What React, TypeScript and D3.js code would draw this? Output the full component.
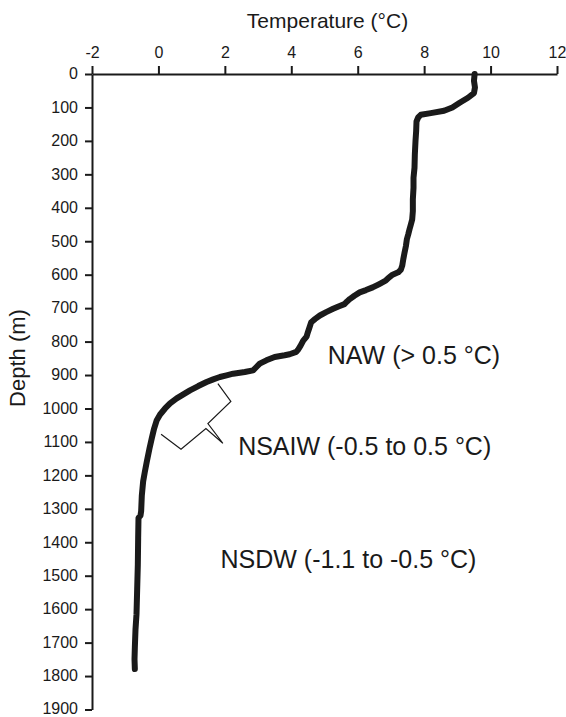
import React, { useEffect, useRef } from "react";
import * as d3 from "d3";

// Temperature profile (depth in m, temperature in °C)
const depths = [0, 20, 40, 57, 71, 86, 100, 110, 117, 122, 130, 142, 170, 200, 240, 280, 310, 340, 375, 410, 435, 450, 464, 480, 494, 515, 534, 555, 573, 585, 593, 600, 610, 618, 628, 638, 646, 653, 663, 673, 680, 688, 695, 702, 712, 722, 732, 742, 757, 772, 785, 797, 812, 825, 831, 838, 841, 846, 856, 866, 876, 886, 891, 896, 901, 906, 913, 921, 933, 946, 958, 970, 985, 1000, 1018, 1035, 1060, 1089, 1120, 1159, 1190, 1218, 1260, 1307, 1320, 1327, 1387, 1466, 1540, 1615, 1660, 1714, 1750, 1779];
const temps = [9.52, 9.5, 9.53, 9.5, 9.32, 9.07, 8.85, 8.6, 8.2, 7.9, 7.82, 7.77, 7.76, 7.74, 7.72, 7.71, 7.68, 7.68, 7.66, 7.66, 7.64, 7.6, 7.56, 7.52, 7.48, 7.45, 7.41, 7.37, 7.34, 7.3, 7.22, 7.05, 6.92, 6.84, 6.65, 6.45, 6.25, 6.06, 5.9, 5.76, 5.68, 5.6, 5.42, 5.26, 5.05, 4.86, 4.72, 4.6, 4.55, 4.5, 4.46, 4.36, 4.28, 4.2, 4.15, 3.95, 3.8, 3.5, 3.25, 3.05, 2.95, 2.85, 2.6, 2.25, 2.05, 1.85, 1.65, 1.45, 1.2, 0.95, 0.75, 0.55, 0.35, 0.2, 0.05, -0.05, -0.13, -0.2, -0.27, -0.35, -0.41, -0.46, -0.5, -0.52, -0.54, -0.6, -0.61, -0.62, -0.64, -0.66, -0.69, -0.71, -0.72, -0.71];

const tempTicks = [-2, 0, 2, 4, 6, 8, 10, 12];
const depthTicks = [0, 100, 200, 300, 400, 500, 600, 700, 800, 900, 1000, 1100, 1200, 1300, 1400, 1500, 1600, 1700, 1800, 1900];

// Bracket for NSAIW (temperature, depth)
const bracketT = [1.79, 2.18, 1.49, 1.94, 1.43, 0.68, 0.08];
const bracketD = [926, 979, 1045, 1104, 1060, 1122, 1077];

const labels = [
  { text: "NAW (> 0.5 °C)", t: 5.1, d: 866 },
  { text: "NSAIW (-0.5 to 0.5 °C)", t: 2.4, d: 1140 },
  { text: "NSDW (-1.1 to -0.5 °C)", t: 1.87, d: 1476 },
];

const W = 566;
const H = 717;
const FONT = "'Liberation Sans', Arial, Helvetica, sans-serif";
const INK = "#1a1a1a";

export default function App() {
  const axRef = useRef<SVGGElement>(null);

  const x = d3.scaleLinear().domain([-2, 12]).range([92, 557]);
  const y = d3.scaleLinear().domain([0, 1900]).range([74, 709.5]);

  const line = d3
    .line<number>()
    .x((_, i) => x(temps[i]))
    .y((d) => y(d))
    .curve(d3.curveLinear);

  const bracket = d3
    .line<number>()
    .x((t) => x(t))
    .y((_, i) => y(bracketD[i]));

  useEffect(() => {
    const g = d3.select(axRef.current);
    g.selectAll("*").remove();
    const fmt = (d: any) => String(d);
    const top = g
      .append("g")
      .attr("transform", `translate(0,${y(0)})`)
      .call(
        d3.axisTop(x).tickValues(tempTicks).tickSize(8).tickSizeOuter(0).tickPadding(8.5).tickFormat(fmt)
      );
    const left = g
      .append("g")
      .attr("transform", `translate(${x(-2)},0)`)
      .call(
        d3.axisLeft(y).tickValues(depthTicks).tickSize(7).tickSizeOuter(0).tickPadding(7).tickFormat(fmt)
      );
    left.selectAll(".tick text").attr("dy", "0.3em");
    left.selectAll(".tick:last-of-type text").attr("dy", "0.25em");
    [top, left].forEach((a) => {
      a.select(".domain").attr("stroke", INK).attr("stroke-width", 2);
      a.selectAll(".tick line").attr("stroke", INK).attr("stroke-width", 2);
      a.selectAll(".tick text")
        .attr("fill", INK)
        .style("font-family", FONT)
        .style("font-size", "16px");
    });
  }, []);

  return (
    <svg
      width={W}
      height={H}
      style={{ position: "absolute", left: 0, top: 0, background: "#fff" }}
    >
      <rect width={W} height={H} fill="#fff" />
      <g ref={axRef} />
      <path
        d={line(depths) || ""}
        fill="none"
        stroke={INK}
        strokeWidth={6}
        strokeLinejoin="round"
        strokeLinecap="round"
      />
      <path
        d={bracket(bracketT) || ""}
        fill="none"
        stroke={INK}
        strokeWidth={1.2}
        strokeLinejoin="miter"
      />
      <text
        x={(x(-2) + x(12)) / 2 + 3}
        y={28}
        textAnchor="middle"
        fontFamily={FONT}
        fontSize={21}
        fill={INK}
      >
        Temperature (°C)
      </text>
      <text
        transform={`translate(25,358) rotate(-90)`}
        textAnchor="middle"
        fontFamily={FONT}
        fontSize={22}
        fill={INK}
      >
        Depth (m)
      </text>
      {labels.map((l) => (
        <text
          key={l.text}
          x={x(l.t)}
          y={y(l.d)}
          fontFamily={FONT}
          fontSize={25}
          fill={INK}
        >
          {l.text}
        </text>
      ))}
    </svg>
  );
}
